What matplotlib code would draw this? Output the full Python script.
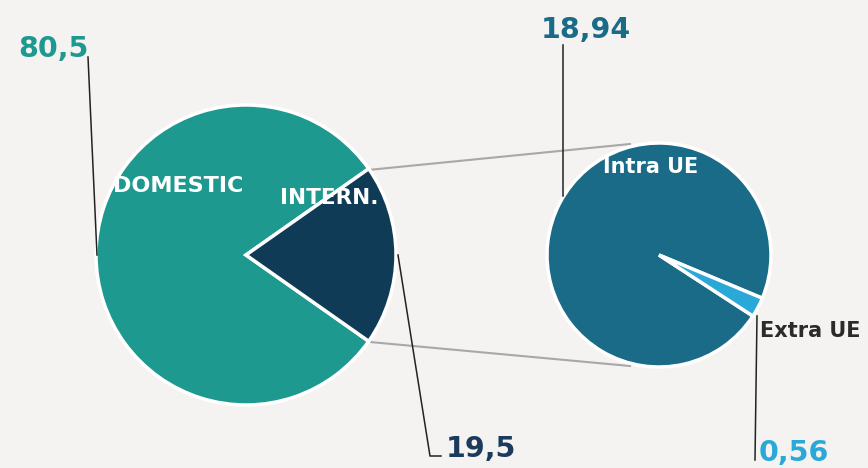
import matplotlib.pyplot as plt

# data
main_labels = ['DOMESTIC', 'INTERN.']
main_values = [80.5, 19.5]
main_colors = ['#1e9990', '#0f3b56']

sub_labels = ['Intra UE', 'Extra UE']
sub_values = [18.94, 0.56]
sub_colors = ['#1a6b87', '#2aa9d9']

H = 468
bg = '#f4f3f1'

fig = plt.figure(figsize=(8.68, 4.68), dpi=100, facecolor=bg)
ax = fig.add_axes([0, 0, 1, 1])
ax.set_facecolor(bg)

def Y(py):
    return H - py

# left pie
c1 = (246, Y(255)); r1 = 150
ax.pie(main_values, colors=main_colors, startangle=35.1, center=c1, radius=r1,
       wedgeprops=dict(edgecolor='white', linewidth=2.5), frame=True)

# right pie
c2 = (659, Y(255)); r2 = 112
ax.pie(sub_values, colors=sub_colors, startangle=-22.7, center=c2, radius=r2,
       explode=[0, 0.03], wedgeprops=dict(edgecolor='white', linewidth=2.5), frame=True)
ax.set_xlim(0, 868)
ax.set_ylim(0, H)
ax.set_aspect('equal')
ax.axis('off')

# connector lines
ax.plot([368, 630], [Y(170), Y(144)], color='#a8a8a8', lw=1.5, zorder=0.5)
ax.plot([370, 630], [Y(342), Y(366)], color='#a8a8a8', lw=1.5, zorder=0.5)

# leader lines
lk = dict(color='#222222', lw=1.1)
ax.plot([88, 97], [Y(57), Y(255)], **lk)
ax.plot([563, 563], [Y(45), Y(196)], **lk)
ax.plot([398, 430, 441], [Y(255), Y(456), Y(456)], **lk)
ax.plot([757, 755], [Y(316), Y(460)], **lk)

fam = 'DejaVu Sans'
ax.text(18, Y(57), '80,5', color='#1e9990', fontsize=20.5, fontweight='bold', family=fam, va='baseline')
ax.text(541, Y(38), '18,94', color='#1a6b87', fontsize=20.5, fontweight='bold', family=fam, va='baseline')
ax.text(446, Y(457), '19,5', color='#1b3a5c', fontsize=20.5, fontweight='bold', family=fam, va='baseline')
ax.text(759, Y(461), '0,56', color='#2aa9d9', fontsize=20.5, fontweight='bold', family=fam, va='baseline')

ax.text(113, Y(192), main_labels[0], color='white', fontsize=16, fontweight='bold', family=fam, va='baseline')
ax.text(280, Y(204), main_labels[1], color='white', fontsize=15.5, fontweight='bold', family=fam, va='baseline')
ax.text(603, Y(173), sub_labels[0], color='white', fontsize=15, fontweight='bold', family=fam, va='baseline')
ax.text(760, Y(337), sub_labels[1], color='#2b2b2b', fontsize=15, fontweight='bold', family=fam, va='baseline')

fig.savefig('out.png', dpi=100, facecolor=bg)
